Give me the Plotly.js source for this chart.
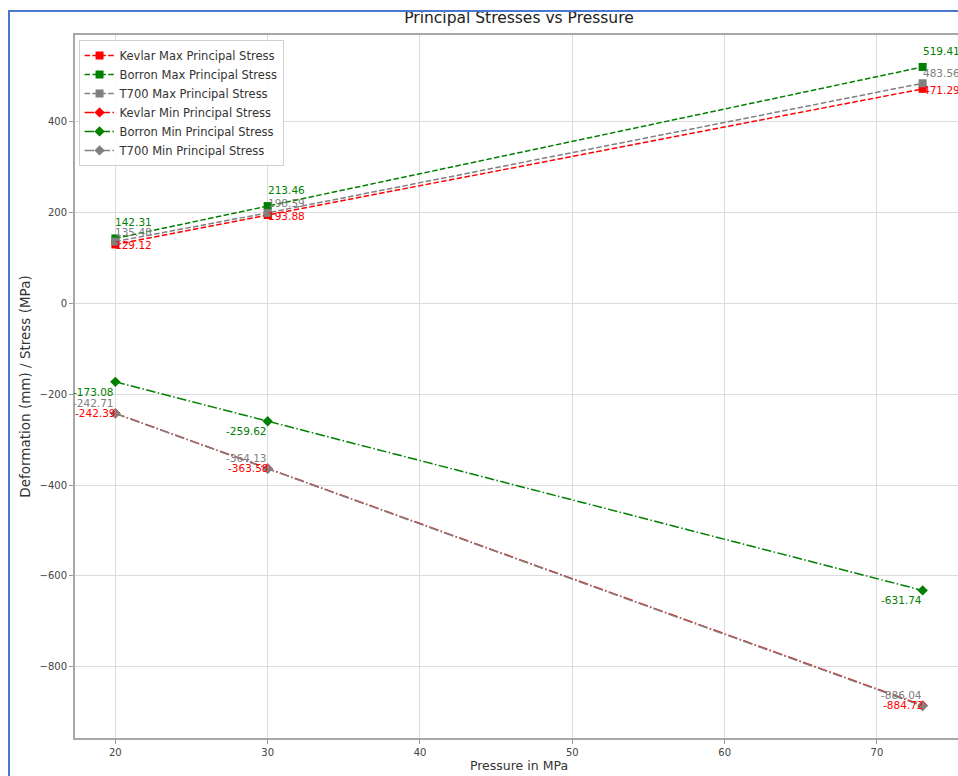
<!DOCTYPE html>
<html>
<head>
<meta charset="utf-8">
<script src="https://cdn.plot.ly/plotly-3.0.1.min.js"></script>
<style>
  html, body { margin: 0; padding: 0; overflow: hidden; background: #fff; }
  #wrap { position: relative; width: 958px; height: 776px; overflow: hidden; }
  #plot { position: absolute; left: 0; top: 0; width: 980px; height: 776px; }
  #frame { position: absolute; left: 8px; top: 10px; right: -10px; bottom: -10px;
           border-left: 2px solid #4a78cf; border-top: 2px solid #4a78cf; pointer-events: none; }
</style>
</head>
<body>
<div id="wrap">
  <div id="plot"></div>
  <div id="frame"></div>
</div>
<script>
// ---- data ----
const pressure = [20, 30, 73];
const kevlarMax = [129.12, 193.88, 471.29];
const borronMax = [142.31, 213.46, 519.41];
const t700Max   = [135.48, 198.59, 483.56];
const kevlarMin = [-242.39, -363.58, -884.72];
const borronMin = [-173.08, -259.62, -631.74];
const t700Min   = [-242.71, -364.13, -886.04];
const seriesNames = [
  'Kevlar Max Principal Stress', 'Borron Max Principal Stress', 'T700 Max Principal Stress',
  'Kevlar Min Principal Stress', 'Borron Min Principal Stress', 'T700 Min Principal Stress'
];
const seriesValues = [kevlarMax, borronMax, t700Max, kevlarMin, borronMin, t700Min];

// ---- styles ----
const colors = ['red', 'green', 'grey', 'red', 'green', 'grey'];
const isMax = [true, true, true, false, false, false];
const labelShift = [
  {x: -2, y: -1, anchor: 'left'},   // Kevlar max
  {x: -2, y: 16, anchor: 'left'},   // Borron max
  {x: -2, y: 10, anchor: 'left'},   // T700 max
  {x: 3,  y: 0,  anchor: 'right'},  // Kevlar min
  {x: 1,  y: -10, anchor: 'right'}, // Borron min
  {x: 1,  y: 11, anchor: 'right'}   // T700 min
];

const traces = seriesValues.map((vals, i) => ({
  x: pressure,
  y: vals,
  name: seriesNames[i],
  type: 'scatter',
  mode: 'lines+markers',
  line: {color: colors[i], width: 1.5, dash: isMax[i] ? '5.5px,2.4px' : '9.6px,2.4px,1.5px,2.4px'},
  marker: {symbol: isMax[i] ? 'square' : 'diamond', size: 8, color: colors[i]}
}));

const annotations = [];
seriesValues.forEach((vals, i) => {
  vals.forEach((v, j) => {
    annotations.push({
      x: pressure[j], y: v, xref: 'x', yref: 'y',
      text: v.toFixed(2), showarrow: false,
      xanchor: labelShift[i].anchor, yanchor: 'middle',
      xshift: labelShift[i].x, yshift: labelShift[i].y,
      font: {family: 'DejaVu Sans', size: 10.5, color: colors[i]}
    });
  });
});

// axis ranges with 5% padding like the original
const allX = pressure;
const allY = [].concat(...seriesValues);
const xMin = Math.min(...allX), xMax = Math.max(...allX);
const yMin = Math.min(...allY), yMax = Math.max(...allY);
const xPad = (xMax - xMin) * 0.05, yPad = (yMax - yMin) * 0.05;

const layout = {
  width: 980, height: 776,
  margin: {l: 75, r: 17, t: 35, b: 38},
  paper_bgcolor: '#fff', plot_bgcolor: '#fff',
  font: {family: 'DejaVu Sans', size: 10, color: '#333'},
  title: {
    text: 'Principal Stresses vs Pressure',
    font: {family: 'DejaVu Sans', size: 15.5, color: '#222'},
    x: 0.5, xref: 'paper', xanchor: 'center',
    y: 1 - 18 / 776, yref: 'container', yanchor: 'middle'
  },
  xaxis: {
    range: [xMin - xPad, xMax + xPad],
    tickvals: [20, 30, 40, 50, 60, 70],
    showgrid: true, gridcolor: '#dcdcdc', gridwidth: 1,
    zeroline: false,
    showline: true, linecolor: '#a8a8a8', linewidth: 2, mirror: true,
    ticks: 'outside', ticklen: 4, tickcolor: '#999',
    tickfont: {family: 'DejaVu Sans', size: 10, color: '#444'},
    title: {text: 'Pressure in MPa', font: {family: 'DejaVu Sans', size: 12.5, color: '#333'}, standoff: 4}
  },
  yaxis: {
    range: [yMin - yPad, yMax + yPad],
    tickvals: [-800, -600, -400, -200, 0, 200, 400],
    showgrid: true, gridcolor: '#dcdcdc', gridwidth: 1,
    zeroline: false,
    showline: true, linecolor: '#a8a8a8', linewidth: 2, mirror: true,
    ticks: 'outside', ticklen: 4, tickcolor: '#999',
    tickfont: {family: 'DejaVu Sans', size: 10, color: '#444'},
    title: {text: 'Deformation (mm) / Stress (MPa)', font: {family: 'DejaVu Sans', size: 13.5, color: '#333'}, standoff: 6}
  },
  legend: {
    x: 0.004, y: 0.993, xanchor: 'left', yanchor: 'top',
    bgcolor: 'rgba(255,255,255,0.9)', bordercolor: '#d0d0d0', borderwidth: 1,
    font: {family: 'DejaVu Sans', size: 11.5, color: '#333'},
    tracegroupgap: 0
  },
  showlegend: true,
  annotations: annotations
};

Plotly.newPlot('plot', traces, layout, {displayModeBar: false, staticPlot: true});
</script>
</body>
</html>
